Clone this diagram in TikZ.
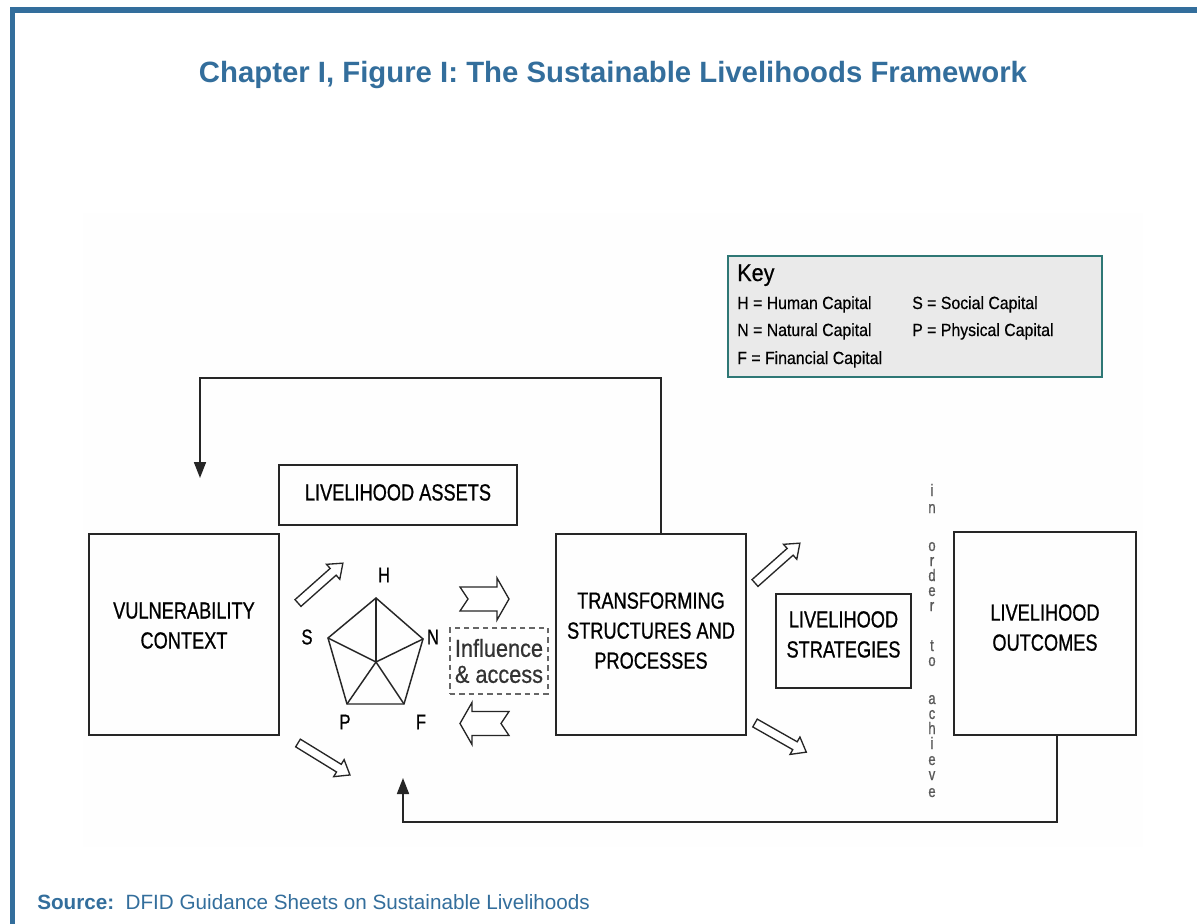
\documentclass[tikz,border=0pt]{standalone}
\usepackage{fontspec}
\setmainfont{Liberation Sans}
\newfontfamily\boxfont[FakeStretch=0.78,FakeBold=0.8]{Liberation Sans}
\newfontfamily\inflfont[FakeStretch=0.88,FakeBold=0.6]{Liberation Sans}
\newfontfamily\keyfont[FakeStretch=0.9,FakeBold=0.5]{Liberation Sans}
\usepackage{tikz}
\usetikzlibrary{calc,arrows.meta}
\definecolor{frameblue}{HTML}{336E9C}
\definecolor{keyedge}{HTML}{2E7775}
\definecolor{keyfill}{HTML}{EAEAEA}
\newcommand*{\BlockArrow}[4]{% #1 = x, #2 = y, #3 = angle, #4 = length
\begin{scope}[shift={(#1,#2)}, rotate=#3]
\draw[blockarrow] (0,-4.5) -- (#4-13,-4.5) -- (#4-13,-10) -- (#4,0)
  -- (#4-13,10) -- (#4-13,4.5) -- (0,4.5) -- cycle;
\end{scope}%
}
\newcommand*{\NotchArrow}[3]{% #1 = x, #2 = y, #3 = angle
\begin{scope}[shift={(#1,#2)}, rotate=#3]
\draw[blockarrow] (0,-12) -- (37,-12) -- (37,-21) -- (49,0)
  -- (37,21) -- (37,12) -- (0,12) -- (8,0) -- cycle;
\end{scope}%
}
\newcommand*{\LetterColumn}[2]{% #1 = list of y/letter, #2 = x
\foreach \y/\letter [count=\i] in {#1} {
\node [vletter] (letter\i) at (#2,\y) {\letter};
}%
}

\begin{document}
\begin{tikzpicture}[x=0.75pt, y=-0.75pt,
  box/.style={draw=black!85, line width=1.3pt, align=center, inner sep=0pt,
    font={\boxfont\fontsize{17.5}{22.5}\selectfont}},
  blockarrow/.style={draw=black!85, line width=1pt, fill=white, line join=miter},
  fbline/.style={draw=black!85, line width=1.3pt, -{Triangle[length=12pt,width=9pt]}},
  pentline/.style={draw=black!85, line width=1.1pt},
  pentlabel/.style={inner sep=0pt, font={\boxfont\fontsize{16}{16}\selectfont}},
  keytext/.style={anchor=base west, inner sep=0pt, font={\keyfont\fontsize{13.2}{14}\selectfont}},
  vletter/.style={anchor=base, inner sep=0pt, text=black!65,
    font={\boxfont\fontsize{12.5}{12.5}\selectfont}}]

  \useasboundingbox (0,0) rectangle (1197,924);
  \fill[white] (0,0) rectangle (1197,924);
  % blue frame
  \fill[frameblue] (10,7) rectangle (1197,13);
  \fill[frameblue] (10,7) rectangle (15,924);
  \fill[black!0.4] (83,213) rectangle (1143,847);

  \node[text=frameblue, font={\bfseries\fontsize{22}{24}\selectfont}] (title)
    at (613,75) {Chapter I, Figure I: The Sustainable Livelihoods Framework};

  % key
  \node[draw=keyedge, fill=keyfill, line width=2pt, minimum width=280.5pt,
    minimum height=90.75pt] (key) at (915,316.5) {};
  \node[keytext, font={\keyfont\fontsize{18}{18}\selectfont}] (keyhead) at (737,281) {Key};
  \node[keytext] (keyh) at (737,309) {H = Human Capital};
  \node[keytext] (keys) at (912,309) {S = Social Capital};
  \node[keytext] (keyn) at (737,336) {N = Natural Capital};
  \node[keytext] (keyp) at (912,336) {P = Physical Capital};
  \node[keytext] (keyf) at (737,364) {F = Financial Capital};

  % boxes
  \node[box, minimum width=178.5pt, minimum height=45pt, text depth=4pt] (assets)
    at (398,495) {LIVELIHOOD ASSETS};
  \node[box, minimum width=142.5pt, minimum height=150.75pt, text depth=13.5pt] (vuln)
    at (184,634.5) {VULNERABILITY\\CONTEXT};
  \node[box, minimum width=142.5pt, minimum height=150.75pt, text depth=6pt] (trans)
    at (651,634.5) {TRANSFORMING\\STRUCTURES AND\\PROCESSES};
  \node[box, minimum width=101.25pt, minimum height=70.5pt, text depth=10pt] (strat)
    at (843.5,641) {LIVELIHOOD\\STRATEGIES};
  \node[box, minimum width=136.5pt, minimum height=152.25pt, text depth=9pt] (outc)
    at (1045,633.5) {LIVELIHOOD\\OUTCOMES};
  \node[draw=black!60, dash pattern=on 4pt off 3pt, line width=1.3pt,
    minimum width=73.5pt, minimum height=49.5pt, inner sep=0pt, align=center,
    text=black!80, font={\inflfont\fontsize{18.5}{19.5}\selectfont}] (infl)
    at (499,661) {Influence\\\& access};

  % asset pentagon
  \coordinate (hv) at (376,598);
  \coordinate (nv) at (423,639);
  \coordinate (fv) at (404,704);
  \coordinate (pv) at (347,704);
  \coordinate (sv) at (328,638);
  \coordinate (cv) at (376,662);
  \draw[pentline] (hv) -- (nv) -- (fv) -- (pv) -- (sv) -- cycle;
  \foreach \v in {hv,nv,fv,pv,sv}
    \draw[pentline] (cv) -- (\v);
  \node[pentlabel] (labh) at (384,575) {H};
  \node[pentlabel] (labn) at (433,637) {N};
  \node[pentlabel] (labs) at (307,637) {S};
  \node[pentlabel] (labp) at (345,722) {P};
  \node[pentlabel] (labf) at (421,722) {F};

  % block arrows
  \BlockArrow{298}{603}{41.6}{60}
  \BlockArrow{298}{743}{-31.6}{61}
  \BlockArrow{755}{583}{41.6}{60}
  \BlockArrow{755}{723}{-29.6}{59}
  \NotchArrow{460}{599}{0}
  \NotchArrow{509}{723.5}{180}

  % in order to achieve
  \LetterColumn{496/i,513/n,551/o,566/r,581/d,596/e,611/r,
    651/t,666/o,704/a,719/c,734/h,749/i,765/e,780/v,797/e}{932}

  % feedback loops
  \coordinate (topturn) at (661,378);
  \coordinate (vulntip) at (200,478);
  \draw[fbline] (trans.north -| topturn) -- (topturn) -| (vulntip);
  \coordinate (botturn) at (1057,822);
  \coordinate (assettip) at (403,778);
  \draw[fbline] (outc.south -| botturn) -- (botturn) -| (assettip);

  \node[anchor=base west, inner sep=0pt, text=frameblue,
    font={\fontsize{15.5}{18}\selectfont}] (source) at (37,909)
    {\textbf{Source:}\ \ DFID Guidance Sheets on Sustainable Livelihoods};
\end{tikzpicture}
\end{document}
